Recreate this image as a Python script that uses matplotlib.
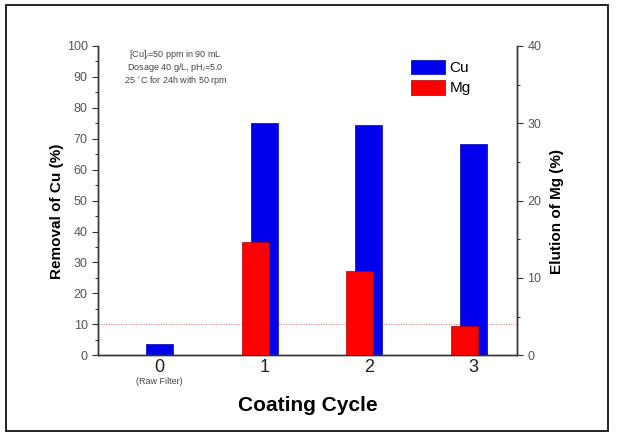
import matplotlib.pyplot as plt
from matplotlib.patches import Rectangle
from matplotlib.ticker import MultipleLocator

# data
cycles = [0, 1, 2, 3]
cycle_labels = ['0', '1', '2', '3']
cu_removal = [3.5, 75.2, 74.4, 68.3]   # left axis, %
mg_elution = [0.0, 14.6, 10.9, 3.8]    # right axis, %
conditions = ['[Cu]$_i$=50 ppm in 90 mL',
              'Dosage 40 g/L, pH$_i$=5.0',
              '25 $^{\\circ}$C for 24h with 50 rpm']

plt.rcParams['font.family'] = ['Arial', 'Liberation Sans', 'DejaVu Sans']
plt.rcParams['mathtext.fontset'] = 'custom'
plt.rcParams['mathtext.rm'] = 'Liberation Sans'

fig = plt.figure(figsize=(6.17, 4.38), dpi=100)
ax = fig.add_axes([0.159, 0.189, 0.679, 0.706])
ax2 = ax.twinx()

bar_w = 0.26
cu_x = [c for c in cycles]
mg_x = [c - 0.085 for c in cycles[1:]]

ax.bar(cu_x, cu_removal, width=bar_w, color='#0000ee', edgecolor='#0000aa',
       linewidth=0.5, zorder=2, label='Cu')
ax2.bar(mg_x, mg_elution[1:], width=bar_w, color='#ff0000', edgecolor='#aa0000',
        linewidth=0.5, zorder=3, label='Mg')

# reference line at 10 %
ax.axhline(10, color='#e08080', lw=0.6, ls=(0, (1.5, 1.5)), zorder=1)

ax.set_xlim(-0.59, 3.42)
ax.set_ylim(0, 100)
ax2.set_ylim(0, 40)

ax.set_xticks(cycles)
ax.set_xticklabels(cycle_labels, fontsize=13, color='#222222')
ax.tick_params(axis='x', length=0, pad=3)
ax.text(0, -8.6, '(Raw Filter)', ha='center', va='center', fontsize=6.5, color='#444444')

ax.yaxis.set_major_locator(MultipleLocator(10))
ax.yaxis.set_minor_locator(MultipleLocator(5))
ax2.yaxis.set_major_locator(MultipleLocator(10))
ax2.yaxis.set_minor_locator(MultipleLocator(5))
for a in (ax, ax2):
    a.tick_params(axis='y', which='major', length=4, width=0.8, labelsize=9,
                  labelcolor='#555555', color='#333333')
    a.tick_params(axis='y', which='minor', length=2.5, width=0.8, color='#333333')
    a.spines['top'].set_visible(False)
    for s in a.spines.values():
        s.set_linewidth(1.0)
        s.set_color('#333333')

ax.set_ylabel('Removal of Cu (%)', fontsize=11, fontweight='bold', labelpad=2)
ax2.set_ylabel('Elution of Mg (%)', fontsize=11, fontweight='bold', labelpad=6)
ax.yaxis.label.set_y(0.465)
ax2.yaxis.label.set_y(0.465)
ax.set_xlabel('Coating Cycle', fontsize=15, fontweight='bold', labelpad=14)

for i, line in enumerate(conditions):
    ax.text(0.185, 0.971 - i * 0.041, line, transform=ax.transAxes, ha='center',
            va='center', fontsize=6.5, color='#444444')

h1, l1 = ax.get_legend_handles_labels()
h2, l2 = ax2.get_legend_handles_labels()
ax2.legend(h1 + h2, l1 + l2, loc='upper left', bbox_to_anchor=(0.715, 1.0),
           frameon=False, fontsize=11, handlelength=2.2, handleheight=1.1,
           handletextpad=0.3, labelspacing=0.3)

# outer frame around the whole picture
fig.patches.append(Rectangle((0.009, 0.016), 0.977, 0.972, transform=fig.transFigure,
                             fill=False, edgecolor='#111111', linewidth=1.3))

fig.savefig('out.png', dpi=100)
